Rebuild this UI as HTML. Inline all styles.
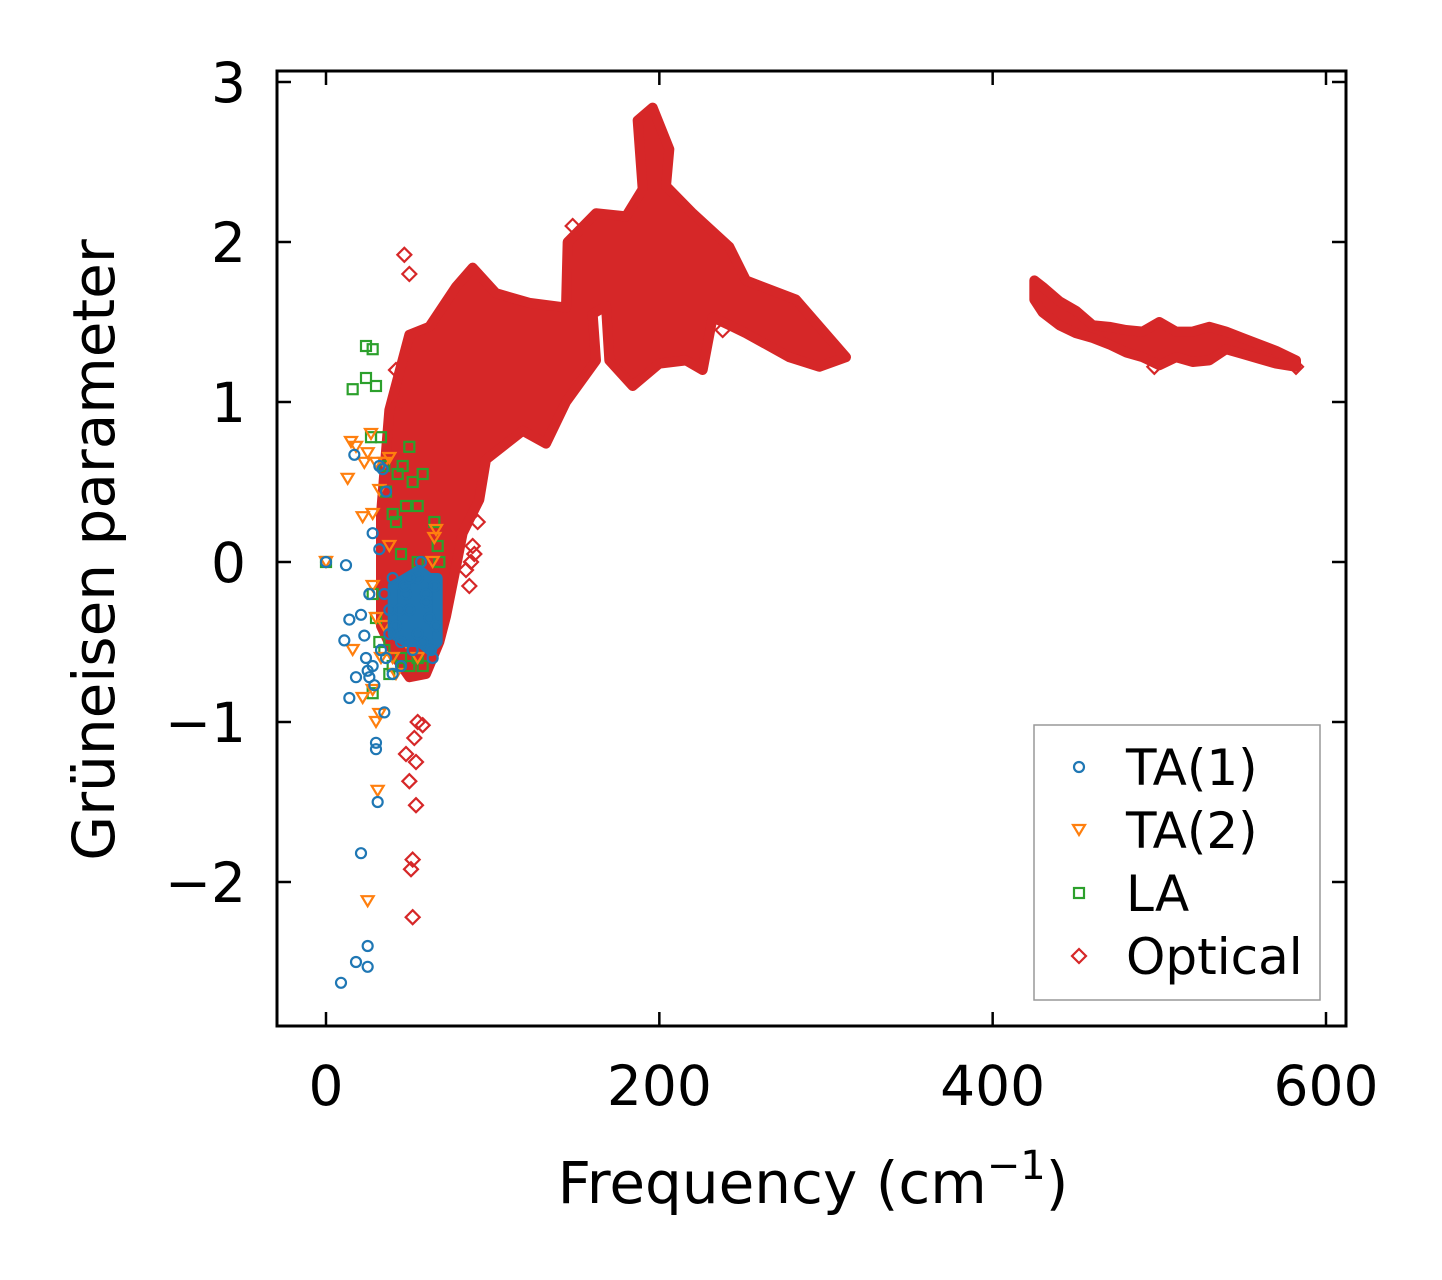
<!DOCTYPE html>
<html><head><meta charset="utf-8"><style>
body{margin:0;background:#fff;}
svg text{font-family:"DejaVu Sans","Liberation Sans",sans-serif;fill:#000;}
</style></head><body>
<svg id="chart" width="1442" height="1275" viewBox="0 0 1442 1275" xmlns="http://www.w3.org/2000/svg">
<g id="marks"></g>
<rect x="277" y="71" width="1069" height="955" fill="none" stroke="#000" stroke-width="3"/>
<g id="axes"></g>
<text x="813" y="1203" font-size="58" text-anchor="middle">Frequency (cm<tspan font-size="40" dy="-24">−1</tspan><tspan dy="24">)</tspan></text>
<text transform="translate(114,550) rotate(-90)" font-size="58" text-anchor="middle">Grüneisen parameter</text>
<g>
<rect x="1034" y="725" width="286" height="275" fill="#fff" stroke="#999" stroke-width="1.5"/>
<circle cx="1079" cy="767" r="5" fill="none" stroke="#1f77b4" stroke-width="2.2"/>
<text x="1126" y="785" font-size="50">TA(1)</text>
<path d="M1073,825 L1085,825 L1079,835 Z" fill="none" stroke="#ff7f0e" stroke-width="2.2"/>
<text x="1126" y="848" font-size="50">TA(2)</text>
<rect x="1074" y="888" width="10" height="10" fill="none" stroke="#2ca02c" stroke-width="2.2"/>
<text x="1126" y="911" font-size="50">LA</text>
<path d="M1079,949 L1086,956 L1079,963 L1072,956 Z" fill="none" stroke="#d62728" stroke-width="2.2"/>
<text x="1126" y="974" font-size="50">Optical</text>
</g>
</svg>
<script>
const xTicks=[0,200,400,600];
const yTicks=[-2,-1,0,1,2,3];
const yTickLabels=["−2","−1","0","1","2","3"];
// optical low-frequency cloud outline (frequency, gruneisen) vertices
const optF1=[50,62,78,88,102,122,144,145,162,180,190,187,196,206,204,220,242,252,282,312,296,278,252,244,232,226,216,200,184,170,168,160,162,144,132,118,96,92,82,78,72,68,60,50,42,33,33,38];
const optG1=[1.42,1.47,1.72,1.84,1.68,1.62,1.59,2.0,2.18,2.16,2.33,2.76,2.84,2.58,2.35,2.18,1.97,1.76,1.64,1.28,1.22,1.28,1.43,1.47,1.53,1.2,1.26,1.24,1.1,1.26,1.6,1.55,1.26,1.0,0.74,0.82,0.64,0.39,0.18,-0.03,-0.34,-0.5,-0.7,-0.72,-0.6,-0.4,0.3,0.95];
// optical high-frequency band
const optF2=[425,430,440,450,460,470,480,490,500,510,520,530,540,550,560,570,582];
const optU2=[1.76,1.72,1.63,1.57,1.48,1.47,1.45,1.44,1.5,1.44,1.44,1.47,1.44,1.4,1.36,1.32,1.26];
const optL2=[1.64,1.56,1.48,1.43,1.4,1.36,1.31,1.28,1.23,1.28,1.25,1.26,1.33,1.3,1.27,1.24,1.22];
const optPtsF=[47,50,48,50,51,52,52,54,55,58,53,54,86,88,84,42,45,305,582,497,60,56,53,40,44,91,89,87,148,192,238];
const optPtsG=[1.92,1.8,-1.2,-1.37,-1.92,-1.86,-2.22,-1.52,-1.0,-1.02,-1.1,-1.25,-0.15,0.1,-0.05,1.2,0.8,1.28,1.22,1.22,-0.55,-0.68,-0.62,0.5,1.0,0.25,0.05,0.0,2.1,1.2,1.45];
// acoustic dense core (TA1)
const ta1CoreF=[40,48,56,62,67];
const ta1CoreU=[-0.15,-0.1,-0.05,-0.1,-0.1];
const ta1CoreL=[-0.45,-0.5,-0.5,-0.55,-0.5];
const ta1F=[0,12,17,11,14,14,18,21,21,23,24,25,26,28,29,30,30,31,32,33,35,35,36,38,18,25,25,9,40,42,45,48,50,55,58,60,62,64,65,55,52,47,44,66,63,57,38,36,40,45,50,60,28,26,32,34];
const ta1G=[0,-0.02,0.67,-0.49,-0.36,-0.85,-0.72,-0.33,-1.82,-0.46,-0.6,-0.68,-0.2,0.18,-0.77,-1.13,-1.17,-1.5,0.08,-0.55,-0.94,-0.2,0.44,-0.3,-2.5,-2.4,-2.53,-2.63,-0.1,-0.4,-0.5,-0.2,-0.3,-0.1,-0.5,-0.2,-0.35,-0.6,-0.15,-0.45,-0.55,-0.15,-0.3,-0.4,-0.55,0.0,-0.45,-0.6,-0.7,-0.65,-0.1,-0.25,-0.65,-0.72,0.6,0.58];
const ta2F=[0,13,15,18,22,23,25,27,28,30,32,35,38,16,22,25,28,30,31,32,28,30,35,40,42,45,48,50,55,60,65,66,64,38,33];
const ta2G=[0,0.52,0.75,0.72,0.28,0.62,0.68,0.8,0.3,0.62,0.45,0.62,0.65,-0.55,-0.85,-2.12,-0.8,-1.0,-1.43,-0.95,-0.15,-0.35,-0.4,-0.6,-0.7,-0.2,-0.5,-0.3,-0.6,-0.4,0.15,0.2,0.0,0.1,-0.6];
const laF=[0,16,24,24,28,30,27,33,35,36,40,43,46,50,52,55,58,42,48,65,67,68,30,32,35,40,45,50,55,58,28,38,28,45,55,60];
const laG=[0,1.08,1.35,1.15,1.33,1.1,0.78,0.78,0.6,0.44,0.3,0.55,0.6,0.72,0.5,0.35,0.55,0.25,0.35,0.25,0.1,0.0,-0.35,-0.5,-0.55,-0.65,-0.6,-0.65,-0.6,-0.65,-0.2,-0.7,-0.82,0.05,0.0,-0.2];

const X=v=>326+v*(1000/600);
const Y=v=>562-v*160;
const NS="http://www.w3.org/2000/svg";
const marks=document.getElementById('marks');
const axes=document.getElementById('axes');
function mk(tag,attrs,parent){const e=document.createElementNS(NS,tag);for(const k in attrs)e.setAttribute(k,attrs[k]);parent.appendChild(e);return e;}
function outline(F,G,color,name){
  const d='M'+F.map((f,i)=>X(f)+','+Y(G[i])).join(' L')+' Z';
  const p=mk('path',{d:d,fill:color,stroke:color,'stroke-width':10,'stroke-linejoin':'round'},marks);
  
  
}
function band(F,U,L,color,name){
  let d='M'+F.map((f,i)=>X(f)+','+Y(U[i])).join(' L');
  for(let i=F.length-1;i>=0;i--)d+=' L'+X(F[i])+','+Y(L[i]);
  d+=' Z';
  const p=mk('path',{d:d,fill:color,stroke:color,'stroke-width':10,'stroke-linejoin':'round'},marks);
  
  
}
function pts(F,G,kind,color,name){
  F.forEach((f,i)=>{
    const x=X(f),y=Y(G[i]);let e;
    if(kind==='circle')e=mk('circle',{cx:x,cy:y,r:5,fill:'none',stroke:color,'stroke-width':2.2},marks);
    else if(kind==='tri')e=mk('path',{d:`M${x-6},${y-5} L${x+6},${y-5} L${x},${y+5} Z`,fill:'none',stroke:color,'stroke-width':2.2},marks);
    else if(kind==='sq')e=mk('rect',{x:x-5,y:y-5,width:10,height:10,fill:'none',stroke:color,'stroke-width':2.2},marks);
    else e=mk('path',{d:`M${x},${y-7} L${x+7},${y} L${x},${y+7} L${x-7},${y} Z`,fill:'none',stroke:color,'stroke-width':2.2},marks);
    
    
  });
}
outline(optF1,optG1,'#d62728','optical-cloud-low');
band(optF2,optU2,optL2,'#d62728','optical-band-high');
pts(optPtsF,optPtsG,'dia','#d62728','optical-point');
pts(laF,laG,'sq','#2ca02c','la-point');
pts(ta2F,ta2G,'tri','#ff7f0e','ta2-point');
band(ta1CoreF,ta1CoreU,ta1CoreL,'#1f77b4','ta1-dense-core');
pts(ta1F,ta1G,'circle','#1f77b4','ta1-point');

xTicks.forEach(v=>{
  const x=X(v);
  let t=mk('line',{x1:x,x2:x,y1:1026,y2:1012,stroke:'#000','stroke-width':2.5},axes);
  
  
  t=mk('line',{x1:x,x2:x,y1:71,y2:85,stroke:'#000','stroke-width':2.5},axes);
  
  
  const l=mk('text',{x:x,y:1105,'font-size':55,'text-anchor':'middle'},axes);
  l.textContent=String(v);
  
  
});
yTicks.forEach((v,i)=>{
  const y=Y(v);
  let t=mk('line',{x1:277,x2:291,y1:y,y2:y,stroke:'#000','stroke-width':2.5},axes);
  
  
  t=mk('line',{x1:1346,x2:1332,y1:y,y2:y,stroke:'#000','stroke-width':2.5},axes);
  
  
  const l=mk('text',{x:246,y:y+20,'font-size':55,'text-anchor':'end'},axes);
  l.textContent=yTickLabels[i];
  
  
});
</script>
</body></html>
